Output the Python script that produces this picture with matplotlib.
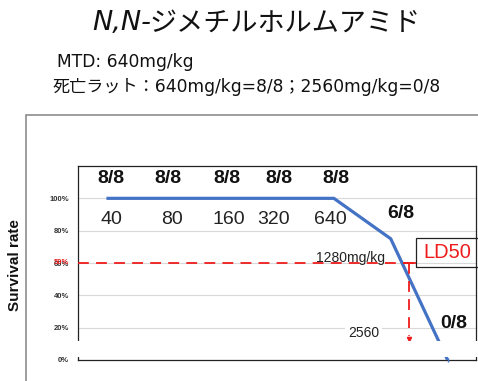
import matplotlib
matplotlib.use("Agg")
import matplotlib.pyplot as plt
from matplotlib.patches import Rectangle
import numpy as np

# ---- data -------------------------------------------------------------
doses = ["40", "80", "160", "320", "640", "1280", "2560"]
dose_labels = ["40", "80", "160", "320", "640", "1280mg/kg", "2560"]
survivors = [8, 8, 8, 8, 8, 6, 0]
group_size = 8
ytick_values = [0.0, 0.2, 0.4, 0.6, 0.8, 1.0]
ytick_labels = ["0%", "20%", "40%", "60%", "80%", "100%"]
ld50_label = "50%"
ld50_level = 0.6          # reference line drawn on the 60% gridline
ld50_dose_pos = 5.33      # category position where the drop line falls

title_prefix = "N,N-"
title_main = "ジメチルホルムアミド"
subtitle_1 = "MTD: 640mg/kg"
subtitle_2 = "死亡ラット：640mg/kg=8/8；2560mg/kg=0/8"

survival = [s / group_size for s in survivors]
count_labels = [f"{s}/{group_size}" for s in survivors]
xpos = np.arange(len(doses))

# ---- layout (pixel offsets for annotations) ---------------------------
count_dx = [5, 5, 7, 2, 2, 10, 6]
count_dy = [20, 20, 20, 20, 20, 25, 37]
dose_dx = [5, 9, 9, -3, -3, -40, -84]
dose_dy = [-21, -21, -21, -21, -21, -19, 27]
PX = 72 / 100  # points per pixel

W, H = 478, 381
fig = plt.figure(figsize=(W / 100, H / 100), dpi=100)
fig.patch.set_facecolor("white")

jp = ["Noto Sans CJK JP", "DejaVu Sans"]
wide = ["DejaVu Sans", "Noto Sans CJK JP"]
lat = ["Liberation Sans", "DejaVu Sans"]

# outer gray frame (runs off the right and bottom edges)
fig.add_artist(Rectangle((26 / W, -0.1), 1.2, (H - 115) / H + 0.1,
                         transform=fig.transFigure, fill=False,
                         edgecolor="#8c8c8c", linewidth=1.2))

# title: oblique N,N- followed by the katakana name
fig.text(151 / W, 1 - 23 / H, title_prefix, family=["DejaVu Sans"],
         style="oblique", fontsize=19.5, ha="right", va="center",
         color="#111111")
fig.text(149 / W, 1 - 23 / H, title_main, family=jp,
         fontsize=19.5, ha="left", va="center", color="#111111")
fig.text(57 / W, 1 - 62 / H, subtitle_1, family=wide, fontsize=12.3,
         ha="left", va="center", color="#111111")
fig.text(53 / W, 1 - 87 / H, subtitle_2, family=wide, fontsize=12.3,
         ha="left", va="center", color="#111111")

ax = fig.add_axes([78 / W, (H - 360) / H, (476 - 78) / W, (360 - 166) / H])
ax.set_xlim(-0.5, len(doses) - 0.5)
ax.set_ylim(0, 1.2)

for y in ytick_values[1:]:
    ax.axhline(y, color="#d9d9d9", linewidth=0.8, zorder=1)

ax.set_yticks(ytick_values)
ax.set_yticklabels(ytick_labels, family=lat, fontsize=5.5,
                   fontweight="bold", color="#333333")
ax.tick_params(axis="y", length=0, pad=6.5)
ax.set_xticks([])
for side in ["left", "top", "right", "bottom"]:
    ax.spines[side].set_color("#222222")
    ax.spines[side].set_linewidth(0.9)

ax.set_ylabel("Survival rate", family=lat, fontsize=11, fontweight="bold",
              color="#111111")
ax.yaxis.set_label_coords(-56 / (476 - 78), 0.49)

# survival curve
ax.plot(xpos, survival, color="#4472C4", linewidth=2.3,
        solid_capstyle="butt", zorder=3)

# count labels above the curve
for x, y, lbl, dx, dy in zip(xpos, survival, count_labels, count_dx, count_dy):
    ax.annotate(lbl, (x, y), xytext=(dx * PX, dy * PX),
                textcoords="offset points", ha="center", va="center",
                family=lat, fontsize=14, fontweight="bold", color="#111111",
                zorder=5)

# dose labels
for i, (x, y, lbl, dx, dy) in enumerate(zip(xpos, survival, dose_labels,
                                            dose_dx, dose_dy)):
    if i < 5:
        kw = dict(fontsize=14, color="#222222")
    else:
        kw = dict(fontsize=10, color="#222222")
    bbox = dict(facecolor="white", edgecolor="none", pad=2) if i == 6 else None
    ax.annotate(lbl, (x, y), xytext=(dx * PX, dy * PX),
                textcoords="offset points", ha="center", va="center",
                family=lat, bbox=bbox, zorder=5, **kw)

# LD50 reference lines
ax.plot([-0.5, ld50_dose_pos + 0.1], [ld50_level, ld50_level],
        color="#EE1C1C", linewidth=1.3, linestyle=(0, (6, 4)), zorder=4)
ax.plot([ld50_dose_pos - 0.1, ld50_dose_pos + 0.1], [ld50_level, ld50_level],
        color="#EE1C1C", linewidth=1.3, zorder=4)
ax.plot([ld50_dose_pos, ld50_dose_pos], [ld50_level, 0.15],
        color="#EE1C1C", linewidth=1.3, linestyle=(0, (6, 4)), zorder=4)
ax.plot([ld50_dose_pos], [0.13], marker="v", markersize=3,
        color="#EE1C1C", zorder=4)
ax.text(-9 / (476 - 78), ld50_level, ld50_label,
        transform=ax.get_yaxis_transform(), ha="right", va="center",
        family=lat, fontsize=5.5, fontweight="bold", color="#EE1C1C",
        zorder=6, clip_on=False)

# LD50 box
fig.text(447 / W, 1 - 252 / H, "LD50", family=lat, fontsize=14.5,
         color="#EE1C1C", ha="center", va="center")
fig.add_artist(Rectangle((416 / W, 1 - 267 / H), 0.2, 29 / H,
                         transform=fig.transFigure, facecolor="none",
                         edgecolor="#222222", linewidth=0.9, zorder=2))

# white strip across the lower part of the plot
fig.add_artist(Rectangle((74 / W, 1 - 357 / H), 1.0, 16 / H,
                         transform=fig.transFigure, facecolor="white",
                         edgecolor="none", zorder=10))
ax.plot([6], [0], marker="|", markersize=3, color="#4472C4",
        clip_on=False, zorder=11)

fig.savefig("out.png", dpi=100, facecolor="white")
